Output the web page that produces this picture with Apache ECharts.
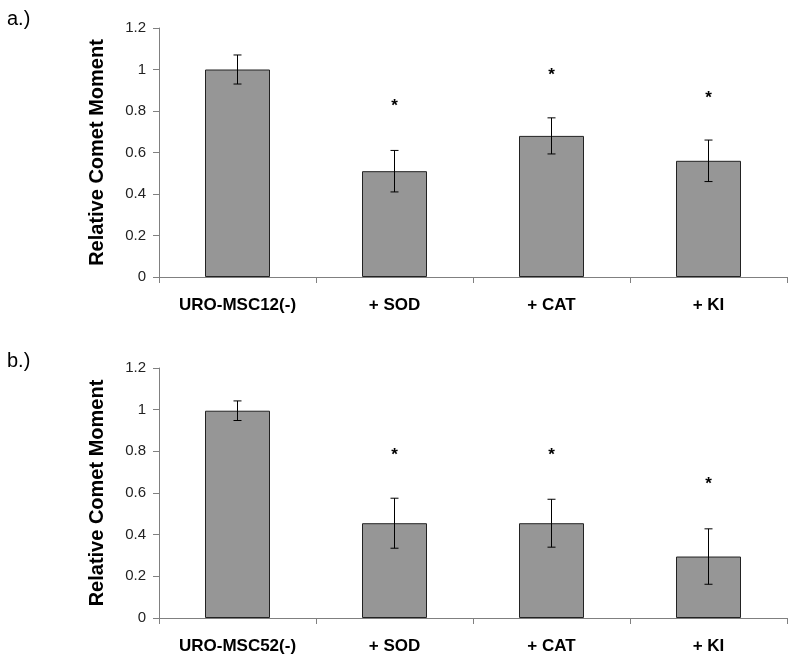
<!DOCTYPE html>
<html>
<head>
<meta charset="utf-8">
<script src="https://cdn.jsdelivr.net/npm/echarts@6/dist/echarts.min.js"></script>
<style>
html,body{margin:0;padding:0;background:#fff;}
#chart{width:800px;height:663px;}
</style>
</head>
<body>
<div id="chart"></div>
<script>
// ---- Data ----
var categoriesA = ['URO-MSC12(-)', '+ SOD', '+ CAT', '+ KI'];
var valuesA = [1.0, 0.51, 0.68, 0.56];
var errorsA = [0.07, 0.10, 0.087, 0.10];
var starsA = [null, 0.84, 0.99, 0.88];

var categoriesB = ['URO-MSC52(-)', '+ SOD', '+ CAT', '+ KI'];
var valuesB = [0.995, 0.455, 0.455, 0.295];
var errorsB = [0.047, 0.12, 0.115, 0.133];
var starsB = [null, 0.80, 0.80, 0.66];

var yTicks = { min: 0, max: 1.2, interval: 0.2 };
var axisTitle = 'Relative Comet Moment';
var panelLabels = ['a.)', 'b.)'];

// ---- Chart ----
var FONT = 'Liberation Sans, Arial, sans-serif';
var chart = echarts.init(document.getElementById('chart'), null, {renderer: 'canvas'});

function makeX(idx, cats) {
  return {
    type: 'category', gridIndex: idx, data: cats,
    axisLine: {lineStyle: {color: '#808080', width: 1}},
    axisTick: {show: true, length: 6, lineStyle: {color: '#808080'}},
    axisLabel: {color: '#000', fontSize: 17, fontWeight: 'bold', fontFamily: FONT, margin: 20}
  };
}
function makeY(idx) {
  return {
    type: 'value', gridIndex: idx, min: yTicks.min, max: yTicks.max, interval: yTicks.interval,
    name: axisTitle, nameLocation: 'middle', nameGap: 52,
    nameTextStyle: {color: '#000', fontSize: 20, fontWeight: 'bold', fontFamily: FONT},
    axisLine: {show: true, lineStyle: {color: '#808080', width: 1}},
    axisTick: {show: true, length: 6, lineStyle: {color: '#808080'}},
    axisLabel: {color: '#222', fontSize: 15, fontFamily: FONT, margin: 13},
    splitLine: {show: false}
  };
}
function barSeries(idx, vals) {
  return {
    type: 'bar', xAxisIndex: idx, yAxisIndex: idx, data: vals, barWidth: 65,
    itemStyle: {color: '#969696', borderColor: '#222', borderWidth: 1},
    silent: true, animation: false
  };
}
function errSeries(idx, vals, errs) {
  var d = vals.map(function (v, i) { return [i, v - errs[i], v + errs[i]]; });
  return {
    type: 'custom', xAxisIndex: idx, yAxisIndex: idx, data: d, animation: false, silent: true, z: 10,
    renderItem: function (params, api) {
      var x = api.value(0);
      var lo = api.coord([x, api.value(1)]);
      var hi = api.coord([x, api.value(2)]);
      var hw = 4;
      var st = {stroke: '#000', lineWidth: 1};
      return {
        type: 'group',
        children: [
          {type: 'line', shape: {x1: lo[0], y1: lo[1], x2: hi[0], y2: hi[1]}, style: st},
          {type: 'line', shape: {x1: lo[0] - hw, y1: lo[1], x2: lo[0] + hw, y2: lo[1]}, style: st},
          {type: 'line', shape: {x1: hi[0] - hw, y1: hi[1], x2: hi[0] + hw, y2: hi[1]}, style: st}
        ]
      };
    }
  };
}
function starSeries(idx, stars) {
  var d = [];
  stars.forEach(function (s, i) { if (s != null) d.push([i, s]); });
  return {
    type: 'custom', xAxisIndex: idx, yAxisIndex: idx, data: d, animation: false, silent: true, z: 10,
    renderItem: function (params, api) {
      var p = api.coord([api.value(0), api.value(1)]);
      return {
        type: 'text', x: p[0], y: p[1] + 4,
        style: {text: '*', fill: '#000', font: 'bold 17px ' + FONT, align: 'center', verticalAlign: 'middle'}
      };
    }
  };
}

var option = {
  animation: false,
  backgroundColor: '#fff',
  grid: [
    {left: 159, top: 28, width: 628, height: 249},
    {left: 159, top: 368, width: 628, height: 250}
  ],
  xAxis: [makeX(0, categoriesA), makeX(1, categoriesB)],
  yAxis: [makeY(0), makeY(1)],
  series: [
    barSeries(0, valuesA), errSeries(0, valuesA, errorsA), starSeries(0, starsA),
    barSeries(1, valuesB), errSeries(1, valuesB, errorsB), starSeries(1, starsB)
  ],
  graphic: [
    {type: 'text', left: 7, top: 9, style: {text: panelLabels[0], font: '20px ' + FONT, fill: '#000'}},
    {type: 'text', left: 7, top: 351, style: {text: panelLabels[1], font: '20px ' + FONT, fill: '#000'}}
  ]
};
chart.setOption(option);
</script>
</body>
</html>
